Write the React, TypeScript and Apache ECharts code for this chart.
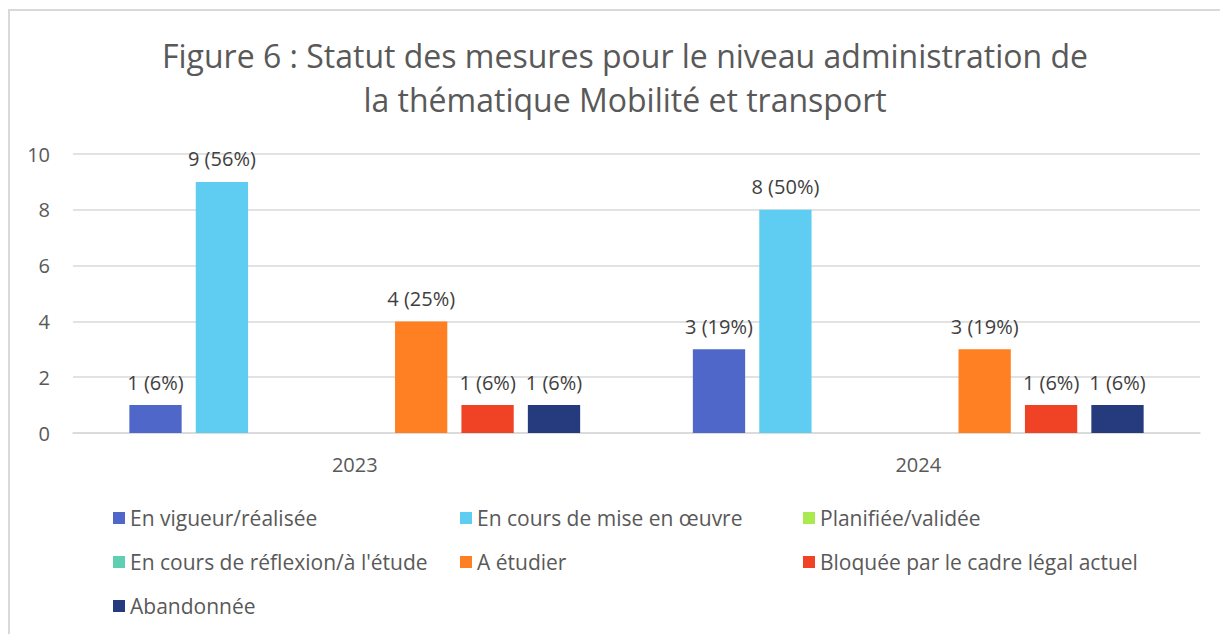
import React, { useEffect, useRef } from "react";
import * as echarts from "echarts";

const categories = ["2023", "2024"];
const seriesNames = [
  "En vigueur/réalisée",
  "En cours de mise en œuvre",
  "Planifiée/validée",
  "En cours de réflexion/à l'étude",
  "A étudier",
  "Bloquée par le cadre légal actuel",
  "Abandonnée",
];
const seriesColors = ["#4F67C9", "#5FCDF2", "#A9EA4E", "#5ECFB0", "#FF8022", "#F04225", "#263A7E"];
const enVigueur = [1, 3];
const enCours = [9, 8];
const planifiee = [0, 0];
const reflexion = [0, 0];
const aEtudier = [4, 3];
const bloquee = [1, 1];
const abandonnee = [1, 1];
const totals = [16, 16];
const yTicks = { min: 0, max: 10, interval: 2 };

const FONT = "Open Sans";

export default function App() {
  const ref = useRef<HTMLDivElement>(null);
  useEffect(() => {
    if (!ref.current) return;
    const chart = echarts.init(ref.current, undefined, { renderer: "svg" });
    const values = [enVigueur, enCours, planifiee, reflexion, aEtudier, bloquee, abandonnee];
    const series = seriesNames.map((name, i) => ({
      name,
      type: "bar",
      data: values[i],
      itemStyle: { color: seriesColors[i] },
      barGap: "27%",
      barCategoryGap: "20%",
      label: {
        show: true,
        position: "top",
        distance: 13,
        color: "#404040",
        fontSize: 20,
        fontFamily: FONT,
        formatter: (p: any) =>
          p.value === 0 ? "" : `${p.value} (${Math.round((p.value / totals[p.dataIndex]) * 100)}%)`,
      },
    }));
    const legendCommon = {
      orient: "vertical",
      itemWidth: 12,
      itemHeight: 12,
      itemGap: 20,
      icon: "rect",
      top: 501,
      textStyle: { color: "#595959", fontSize: 21, fontFamily: FONT, lineHeight: 24 },
    };
    chart.setOption({
      animation: false,
      backgroundColor: "#ffffff",
      title: {
        text: "Figure 6 : Statut des mesures pour le niveau administration de\nla thématique Mobilité et transport",
        left: 620,
        textAlign: "center",
        top: 28,
        textStyle: {
          color: "#595959",
          fontSize: 32,
          fontWeight: "normal",
          fontFamily: FONT,
          lineHeight: 44,
        },
      },
      graphic: [
        {
          type: "rect",
          shape: { x: 9, y: 10, width: 1300, height: 700 },
          style: { fill: "none", stroke: "#d9d9d9", lineWidth: 2 },
          silent: true,
        },
      ],
      legend: [
        { ...legendCommon, left: 108, data: [seriesNames[0], seriesNames[3], seriesNames[6]] },
        { ...legendCommon, left: 455, data: [seriesNames[1], seriesNames[4]] },
        { ...legendCommon, left: 798, data: [seriesNames[2], seriesNames[5]] },
      ],
      grid: { left: 73, right: 20, top: 154, height: 279, containLabel: false },
      xAxis: {
        type: "category",
        data: categories,
        axisLine: { lineStyle: { color: "#d9d9d9", width: 1.5 } },
        axisTick: { show: false },
        axisLabel: { color: "#595959", fontSize: 20, fontFamily: FONT, margin: 21 },
      },
      yAxis: {
        type: "value",
        min: yTicks.min,
        max: yTicks.max,
        interval: yTicks.interval,
        axisLine: { show: false },
        axisTick: { show: false },
        splitLine: { lineStyle: { color: "#d9d9d9", width: 1.5 } },
        axisLabel: { color: "#595959", fontSize: 20, fontFamily: FONT, margin: 23 },
      },
      series,
    });
    return () => chart.dispose();
  }, []);
  return (
    <div
      ref={ref}
      style={{ position: "absolute", left: 0, top: 0, width: 1220, height: 634 }}
    />
  );
}
